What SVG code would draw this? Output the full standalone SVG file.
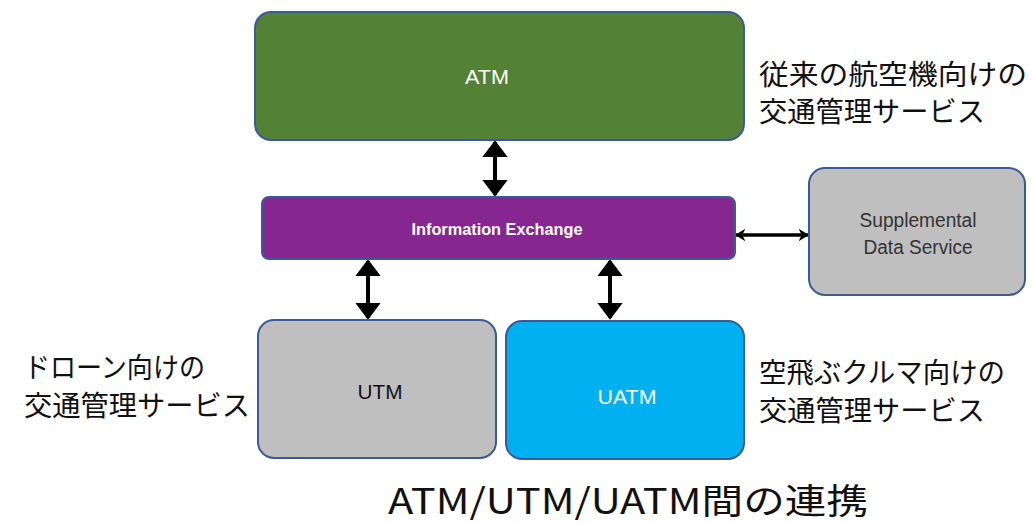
<svg xmlns="http://www.w3.org/2000/svg" width="1033" height="524" viewBox="0 0 1033 524">
<style>
.box{stroke:#3A5A9A;stroke-width:2}
.lbl{font-family:"Liberation Sans",Arial,sans-serif;text-anchor:middle}
.jp{font-family:"Noto Sans CJK JP","Noto Sans",sans-serif;font-size:28px;fill:#111}
.conn{stroke:#000;stroke-width:4;fill:none;marker-start:url(#ah);marker-end:url(#ah)}
.conn2{stroke:#000;stroke-width:3.5;fill:none;marker-start:url(#ah2);marker-end:url(#ah2)}
</style>
<defs>
<marker id="ah" viewBox="0 0 10 10" refX="9" refY="5" markerWidth="4.3" markerHeight="6.5" orient="auto-start-reverse" markerUnits="strokeWidth" preserveAspectRatio="none">
<path d="M0,0 L10,5 L0,10 Z" fill="#000"/>
</marker>
<marker id="ah2" viewBox="0 0 10 10" refX="9" refY="5" markerWidth="3" markerHeight="3.6" orient="auto-start-reverse" markerUnits="strokeWidth" preserveAspectRatio="none">
<path d="M0,0 L10,5 L0,10 L3,5 Z" fill="#000"/>
</marker>
</defs>
<rect width="1033" height="524" fill="#fff"/>
<g id="connectors">
<line class="conn" x1="495" y1="142" x2="495" y2="195"/>
<line class="conn" x1="368" y1="261" x2="368" y2="318"/>
<line class="conn" x1="610" y1="261" x2="610" y2="318"/>
<line class="conn2" x1="736" y1="235" x2="808" y2="235"/>
</g>
<g id="atm">
<rect class="box" x="255" y="12" width="489" height="128" rx="16" fill="#538135"/>
<text class="lbl" x="487" y="84" font-size="21" fill="#fff" textLength="44" lengthAdjust="spacingAndGlyphs">ATM</text>
</g>
<g id="ie">
<rect class="box" x="262" y="197" width="473" height="62" rx="7" fill="#86278F" stroke-width="1.5"/>
<text class="lbl" x="497" y="235" font-size="17" font-weight="bold" fill="#fff" textLength="171" lengthAdjust="spacingAndGlyphs">Information Exchange</text>
</g>
<g id="sds">
<rect class="box" x="809" y="168" width="216" height="127" rx="16" fill="#BFBFBF"/>
<text class="lbl" x="918" y="227" font-size="20" fill="#333" textLength="117" lengthAdjust="spacingAndGlyphs">Supplemental</text>
<text class="lbl" x="918" y="254" font-size="20" fill="#333" textLength="109" lengthAdjust="spacingAndGlyphs">Data Service</text>
</g>
<g id="utm">
<rect class="box" x="258" y="320" width="238" height="138" rx="16" fill="#BFBFBF"/>
<text class="lbl" x="380" y="399" font-size="21" fill="#111" textLength="45" lengthAdjust="spacingAndGlyphs">UTM</text>
</g>
<g id="uatm">
<rect class="box" x="506" y="321" width="238" height="138" rx="16" fill="#00B0F0"/>
<text class="lbl" x="627" y="404" font-size="21" fill="#fff" textLength="59" lengthAdjust="spacingAndGlyphs">UATM</text>
</g>
<g id="notes">
<text class="jp" x="759" y="85" textLength="268" lengthAdjust="spacingAndGlyphs">従来の航空機向けの</text>
<text class="jp" x="759" y="122" textLength="226" lengthAdjust="spacingAndGlyphs">交通管理サービス</text>
<text class="jp" x="24" y="378" textLength="181" lengthAdjust="spacingAndGlyphs">ドローン向けの</text>
<text class="jp" x="24" y="416" textLength="226" lengthAdjust="spacingAndGlyphs">交通管理サービス</text>
<text class="jp" x="759" y="383" textLength="246" lengthAdjust="spacingAndGlyphs">空飛ぶクルマ向けの</text>
<text class="jp" x="759" y="421" textLength="226" lengthAdjust="spacingAndGlyphs">交通管理サービス</text>
<text x="388" y="514" font-family="'Noto Sans CJK JP','Noto Sans',sans-serif" font-size="35" fill="#111" textLength="480" lengthAdjust="spacingAndGlyphs">ATM/UTM/UATM間の連携</text>
</g>
</svg>
